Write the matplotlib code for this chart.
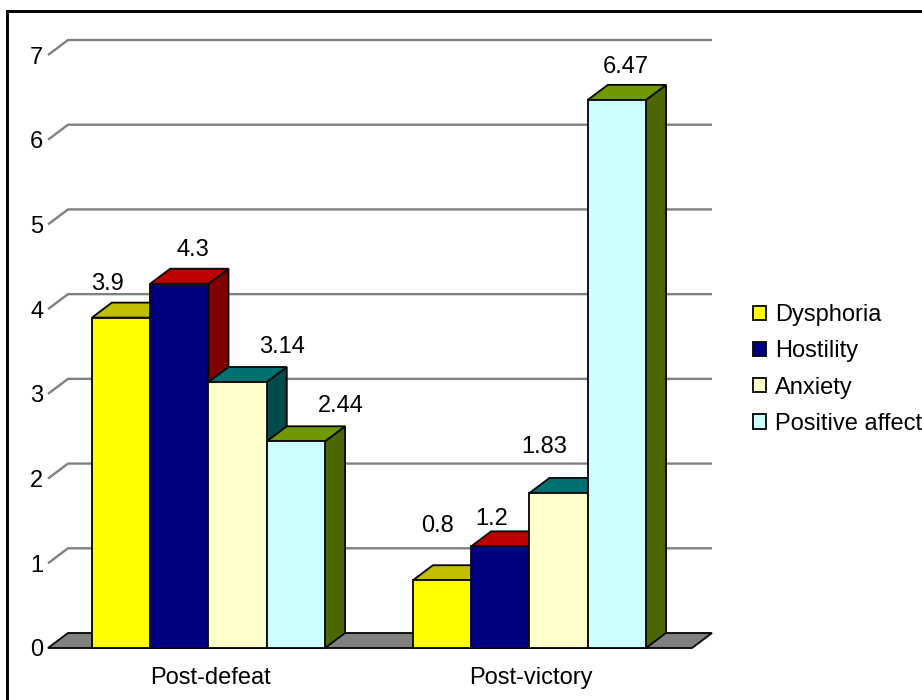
import matplotlib
matplotlib.use("Agg")
import matplotlib.pyplot as plt
from matplotlib.patches import Polygon, Patch
from matplotlib.lines import Line2D

plt.rcParams['font.family'] = ['Liberation Sans', 'DejaVu Sans']

# data
categories = ["Post-defeat", "Post-victory"]
series_names = ["Dysphoria", "Hostility", "Anxiety", "Positive affect"]
dysphoria = [3.9, 0.8]
hostility = [4.3, 1.2]
anxiety = [3.14, 1.83]
positive_affect = [2.44, 6.47]
y_ticks = [0, 1, 2, 3, 4, 5, 6, 7]

# front, top and side colours of each series
front_colors = ["#FFFF00", "#000080", "#FFFFCC", "#CCFFFF"]
top_colors = ["#BFBF00", "#C00000", "#007070", "#709900"]
side_colors = ["#808000", "#800000", "#004C4C", "#4C6600"]

W, H = 922, 700
fig = plt.figure(figsize=(W / 100, H / 100), dpi=100)

# front plane of the chart runs 48..692 px across, 648..55 px down
ax = fig.add_axes([48 / W, 1 - 648 / H, 644 / W, 593 / H])
ax.set_xlim(0, 2)
ax.set_ylim(0, 7)
for s in ax.spines.values():
    s.set_visible(False)

# depth of the fake 3D, 20 px right and 15 px up, in data units
dx = 20 / 322
dy = 15 / (593 / 7)
bar_w = 0.181
edge = "#0A0A0A"
lw = 1.35
font_size = 17

# floor
ax.add_patch(Polygon([(0, 0), (dx, dy), (2 + dx, dy), (2, 0)], closed=True,
                     facecolor="#808080", edgecolor=edge, lw=lw, clip_on=False, zorder=1))

# grid on the back wall plus the little diagonal at the side
for t in y_ticks[1:]:
    ax.plot([0, dx, 2 + dx], [t, t + dy, t + dy], color="#808080", lw=1.7,
            clip_on=False, zorder=1, solid_capstyle="butt")

all_series = [dysphoria, hostility, anxiety, positive_affect]
group_centers = [0.4984, 1.4953]

# offset of every value label from the middle of its bar top, px
label_dx = [[-14, 14, 44, 45], [-5, -9, -14, 9]]
label_dy = [[34, 34, 35, 35], [54, 27, 46, 33]]


def draw_bar(x, v, i):
    z = 2 + i
    front = [(x, 0), (x, v), (x + bar_w, v), (x + bar_w, 0)]
    top = [(x, v), (x + dx, v + dy), (x + bar_w + dx, v + dy), (x + bar_w, v)]
    side = [(x + bar_w, 0), (x + bar_w, v), (x + bar_w + dx, v + dy), (x + bar_w + dx, dy)]
    ax.add_patch(Polygon(side, closed=True, facecolor=side_colors[i], edgecolor=edge, lw=lw,
                         clip_on=False, zorder=z))
    ax.add_patch(Polygon(top, closed=True, facecolor=top_colors[i], edgecolor=edge, lw=lw,
                         clip_on=False, zorder=z))
    ax.add_patch(Polygon(front, closed=True, facecolor=front_colors[i], edgecolor=edge, lw=lw,
                         clip_on=False, zorder=z))


for c in range(len(categories)):
    start = group_centers[c] - 2 * bar_w
    for i, vals in enumerate(all_series):
        x = start + i * bar_w
        draw_bar(x, vals[c], i)
        ax.annotate(f"{vals[c]:g}", xy=(x + bar_w / 2, vals[c]),
                    xytext=(label_dx[c][i], label_dy[c][i]), textcoords="offset pixels",
                    ha="center", va="center", fontsize=font_size, color="black",
                    annotation_clip=False, zorder=10)

# axis text
ax.set_yticks(y_ticks)
ax.set_xticks([0.505, 1.5])
ax.set_xticklabels(categories)
ax.tick_params(axis="both", length=0, labelsize=font_size, labelcolor="black")
ax.tick_params(axis="y", pad=3.5)
ax.tick_params(axis="x", pad=14)

# legend
handles = [Patch(facecolor=front_colors[i], edgecolor=edge, lw=lw) for i in range(4)]
fig.legend(handles, series_names, loc="center left", bbox_to_anchor=(753 / W, 1 - 369.5 / H),
           frameon=False, fontsize=font_size, labelcolor="black", handlelength=0.56, handleheight=0.56,
           handletextpad=0.38, labelspacing=0.6, borderpad=0, borderaxespad=0)

# frame of the picture, only left and top fall inside
fig.add_artist(Line2D([7 / W, 7 / W], [0, 1 - 10.7 / H], color="black", lw=2.1))
fig.add_artist(Line2D([7 / W, 1], [1 - 10.7 / H, 1 - 10.7 / H], color="black", lw=2.1))

plt.savefig("out.png", dpi=100)
